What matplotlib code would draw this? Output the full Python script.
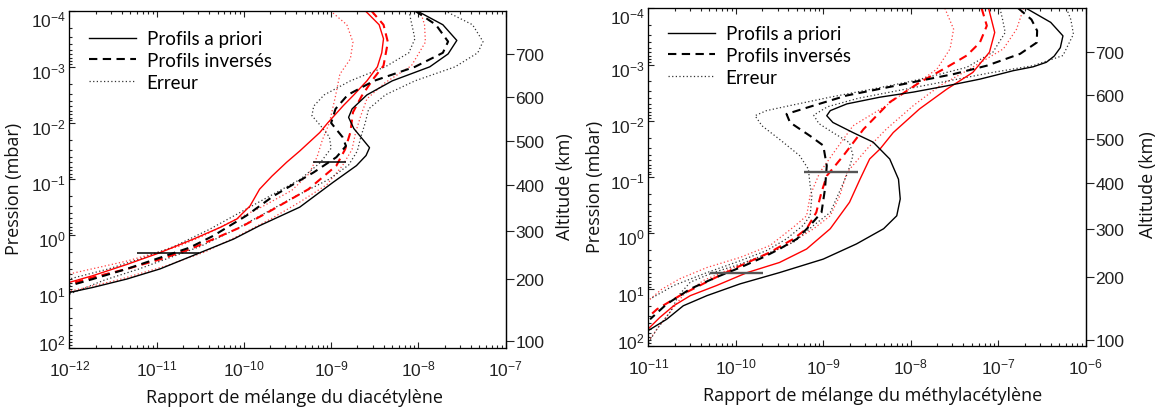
import numpy as np
import matplotlib
matplotlib.use("Agg")
import matplotlib.pyplot as plt
from matplotlib.lines import Line2D
from matplotlib.ticker import (LogLocator, NullFormatter, FixedLocator, FixedFormatter,
                               LogFormatterSciNotation)
from matplotlib.transforms import ScaledTranslation

plt.rcParams['font.family'] = 'Liberation Sans'
plt.rcParams['mathtext.default'] = 'regular'

# values are log10(pressure in mbar) -> log10(mixing ratio)

# ---------- left panel : diacetylene ----------
L_apri_lp = [-4.0, -3.75, -3.47, -3.23, -3.0, -2.75, -2.5, -2.25, -2.1, -1.9, -1.75, -1.56, -1.42,
             -1.24, -0.94, -0.5, -0.17, 0.07, 0.31, 0.6, 0.78, 0.93, 1.02]
L_apri_lx = [-8.02, -7.72, -7.56, -7.66, -7.87, -8.30, -8.59, -8.76, -8.80, -8.74, -8.66, -8.56, -8.60,
             -8.71, -8.98, -9.36, -9.82, -10.12, -10.50, -10.96, -11.34, -11.73, -12.0]
L_inv_lp = [-4.0, -3.75, -3.45, -3.25, -3.0, -2.75, -2.5, -2.25, -2.0, -1.75, -1.59, -1.39, -1.12,
            -0.7, -0.35, 0.01, 0.22, 0.40, 0.60, 0.78, 0.90]
L_inv_lx = [-8.04, -7.80, -7.66, -7.72, -8.04, -8.51, -8.81, -8.95, -9.00, -8.87, -8.83, -8.94, -9.20,
            -9.66, -9.97, -10.35, -10.62, -10.96, -11.34, -11.73, -12.0]
L_errlo_lp = [-4.0, -3.5, -3.25, -3.0, -2.75, -2.5, -2.3, -2.13, -1.95, -1.75, -1.55, -1.3, -1.0,
              -0.7, -0.4, -0.1, 0.2, 0.4, 0.6, 0.78]
L_errlo_lx = [-8.11, -8.04, -8.11, -8.38, -8.78, -9.08, -9.20, -9.22, -9.12, -9.02, -9.00, -9.12, -9.35,
              -9.70, -10.05, -10.40, -10.80, -11.15, -11.55, -12.0]
L_errhi_lp = [-4.0, -3.75, -3.45, -3.25, -3.0, -2.75, -2.5, -2.25, -2.0, -1.75, -1.5, -1.25, -1.0,
              -0.7, -0.4, -0.1, 0.2, 0.4, 0.6, 0.8, 1.05]
L_errhi_lx = [-7.70, -7.38, -7.26, -7.32, -7.58, -8.04, -8.38, -8.57, -8.61, -8.66, -8.70, -8.80, -9.02,
              -9.40, -9.75, -10.10, -10.50, -10.85, -11.20, -11.60, -12.0]
L_red_lp = [-4.0, -3.75, -3.5, -3.25, -3.0, -2.75, -2.5, -2.31, -2.0, -1.83, -1.5, -1.3, -1.05, -0.82,
            -0.52, -0.29, -0.14, 0.07, 0.31, 0.52, 0.72, 0.84]
L_red_lx = [-8.61, -8.45, -8.40, -8.42, -8.47, -8.59, -8.74, -8.86, -9.04, -9.13, -9.36, -9.51, -9.68,
            -9.82, -9.93, -10.08, -10.27, -10.58, -10.96, -11.34, -11.73, -12.0]
L_redinv_lp = [-4.0, -3.75, -3.44, -3.02, -2.78, -2.48, -2.19, -1.83, -1.53, -1.24, -0.82, -0.43, -0.14,
               0.07, 0.25, 0.43, 0.60, 0.75, 0.87]
L_redinv_lx = [-8.54, -8.40, -8.35, -8.40, -8.52, -8.65, -8.75, -8.78, -8.84, -8.94, -9.26, -9.70, -10.04,
               -10.35, -10.62, -10.96, -11.34, -11.73, -12.0]
L_rederrlo_lp = [-4.0, -3.75, -3.44, -3.14, -2.87, -2.48, -2.0, -1.7, -1.4, -1.1, -0.8, -0.5, -0.2, 0.0,
                 0.2, 0.46, 0.69]
L_rederrlo_lx = [-9.01, -8.82, -8.75, -8.78, -8.90, -8.95, -9.02, -9.10, -9.16, -9.25, -9.45, -9.80, -10.20,
                 -10.45, -10.75, -11.34, -12.0]
L_rederrhi_lp = [-4.0, -3.75, -3.44, -3.02, -2.72, -2.43, -2.13, -1.83, -1.53, -1.24, -0.9, -0.6, -0.3,
                 0.0, 0.3, 0.55, 0.8, 1.0]
L_rederrhi_lx = [-7.98, -7.93, -7.92, -8.08, -8.38, -8.59, -8.66, -8.72, -8.76, -8.87, -9.05, -9.35, -9.68,
                 -10.05, -10.45, -10.90, -11.45, -12.0]
L_bars_lp = [-1.31, 0.31]
L_bars_lx0 = [-9.205, -11.23]
L_bars_lx1 = [-8.83, -10.51]

# ---------- right panel : methylacetylene ----------
R_apri_lp = [-4.0, -3.75, -3.51, -3.3, -3.15, -3.04, -2.96, -2.89, -2.81, -2.74, -2.62, -2.51, -2.42,
             -2.30, -2.18, -2.09, -1.97, -1.79, -1.62, -1.32, -0.96, -0.61, -0.31, -0.08, 0.19, 0.46,
             0.70, 0.90, 1.11, 1.29, 1.53, 1.73]
R_apri_lx = [-6.68, -6.40, -6.26, -6.29, -6.36, -6.45, -6.60, -6.83, -7.03, -7.21, -7.59, -7.97, -8.35,
             -8.73, -8.92, -8.96, -8.89, -8.66, -8.43, -8.24, -8.14, -8.12, -8.16, -8.31, -8.62, -9.00,
             -9.50, -9.95, -10.33, -10.60, -10.79, -11.0]
R_inv_lp = [-4.0, -3.8, -3.60, -3.39, -3.19, -2.98, -2.83, -2.71, -2.59, -2.45, -2.27, -2.12, -1.97,
            -1.73, -1.56, -1.20, -0.79, -0.37, -0.14, 0.10, 0.28, 0.43, 0.61, 0.78, 0.99, 1.26, 1.53]
R_inv_lx = [-6.77, -6.62, -6.555, -6.56, -6.75, -7.13, -7.51, -7.90, -8.28, -8.73, -9.11, -9.42, -9.38,
            -9.15, -9.00, -8.96, -8.98, -9.02, -9.15, -9.30, -9.50, -9.69, -9.95, -10.22, -10.52,
            -10.79, -10.98]
R_errlo_lp = [-4.0, -3.8, -3.57, -3.22, -2.95, -2.71, -2.59, -2.42, -2.27, -2.18, -2.09, -1.91, -1.67,
              -1.38, -1.14, -0.85, -0.67, -0.31, -0.14, 0.10, 0.31, 0.49, 0.70, 0.93, 1.17]
R_errlo_lx = [-6.98, -6.95, -6.92, -7.06, -7.36, -7.97, -8.35, -8.92, -9.38, -9.65, -9.78, -9.70, -9.50,
              -9.27, -9.17, -9.15, -9.13, -9.15, -9.23, -9.42, -9.65, -9.95, -10.33, -10.71, -10.98]
R_errhi_lp = [-4.0, -3.8, -3.54, -3.16, -2.98, -2.85, -2.70, -2.55, -2.40, -2.25, -2.10, -1.95, -1.80,
              -1.61, -1.38, -1.08, -0.79, -0.37, -0.14, 0.16, 0.37, 0.55, 0.70, 0.87, 1.1, 1.4, 1.7, 1.95]
R_errhi_lx = [-6.22, -6.17, -6.14, -6.26, -6.60, -7.10, -7.60, -8.10, -8.60, -8.95, -9.11, -9.05, -8.90,
              -8.70, -8.66, -8.72, -8.80, -8.92, -9.11, -9.34, -9.65, -9.95, -10.26, -10.52, -10.65,
              -10.75, -10.90, -11.0]
R_red_lp = [-4.0, -3.57, -3.22, -2.86, -2.56, -2.21, -1.79, -1.5, -1.32, -0.96, -0.55, -0.08, 0.28, 0.52,
            0.70, 0.93, 1.11, 1.29, 1.50, 1.70]
R_red_lx = [-7.11, -7.04, -7.10, -7.29, -7.59, -7.90, -8.20, -8.35, -8.47, -8.58, -8.70, -8.92, -9.19,
            -9.50, -9.87, -10.22, -10.52, -10.71, -10.87, -11.0]
R_redinv_lp = [-4.0, -3.69, -3.39, -3.16, -2.95, -2.68, -2.33, -1.85, -1.38, -1.02, -0.73, -0.37, -0.08,
               0.10, 0.34, 0.58, 0.81, 1.11, 1.35, 1.49]
R_redinv_lx = [-7.19, -7.13, -7.21, -7.36, -7.59, -7.90, -8.24, -8.54, -8.77, -8.96, -9.02, -9.08, -9.19,
               -9.34, -9.61, -9.95, -10.26, -10.64, -10.90, -11.0]
R_rederrlo_lp = [-4.0, -3.63, -3.28, -2.92, -2.62, -2.27, -1.91, -1.50, -1.08, -0.67, -0.31, -0.11, 0.22,
                 0.43, 0.61, 0.81, 1.0, 1.20]
R_rederrlo_lx = [-7.61, -7.51, -7.55, -7.70, -7.97, -8.28, -8.66, -8.85, -9.04, -9.15, -9.19, -9.34, -9.61,
                 -9.95, -10.33, -10.64, -10.85, -11.0]
R_rederrhi_lp = [-4.0, -3.63, -3.28, -2.89, -2.62, -2.27, -1.85, -1.50, -1.08, -0.67, -0.31, -0.08, 0.22,
                 0.43, 0.64, 0.84, 1.1, 1.4, 1.64, 1.88]
R_rederrhi_lx = [-6.71, -6.79, -6.94, -7.36, -7.67, -7.97, -8.28, -8.50, -8.73, -8.81, -8.92, -9.11, -9.42,
                 -9.72, -10.07, -10.37, -10.60, -10.75, -10.87, -10.98]
R_bars_lp = [-1.09, 0.707]
R_bars_lx0 = [-9.217, -10.295]
R_bars_lx1 = [-8.607, -9.69]

# decades shown on the axes
L_xdec = [-12, -11, -10, -9, -8, -7]
R_xdec = [-11, -10, -9, -8, -7, -6]
p_dec = [-4, -3, -2, -1, 0, 1, 2]

# altitude scale (km) and its position on the pressure axis
alt_km = [700, 600, 500, 400, 300, 200, 100]
alt_logp = [-3.228, -2.456, -1.683, -0.893, -0.068, 0.78, 1.89]

legend_labels = ['Profils a priori', 'Profils inversés', 'Erreur']

DASH = (4, 2.6)
DOT = (1, 1.9)
styles = {
    'apri': dict(color='black', lw=1.0),
    'inv': dict(color='black', lw=1.5, dashes=DASH),
    'err': dict(color='#333333', lw=0.9, dashes=DOT),
    'red': dict(color='#ff0000', lw=1.0),
    'redinv': dict(color='#ff0000', lw=1.5, dashes=DASH),
    'rederr': dict(color='#ff4040', lw=0.9, dashes=DOT),
}

LABEL_FONT = 'Open Sans'
LEGEND_FONT = 'Lato'


def curve(ax, lp, lx, key):
    ax.plot(10.0 ** np.array(lx), 10.0 ** np.array(lp), **styles[key])


def setup(ax, xdec, xlabel, bars, bar_color, bar_lw, ylab_x, alt_x, xlab_dx, leg_y):
    lp, lx0, lx1 = bars
    for p, a, b in zip(lp, lx0, lx1):
        ax.plot([10.0 ** a, 10.0 ** b], [10.0 ** p, 10.0 ** p], color=bar_color, lw=bar_lw,
                solid_capstyle='butt')
    ax.set_xscale('log')
    ax.set_yscale('log')
    ax.set_xlim(10.0 ** xdec[0], 10.0 ** xdec[-1])
    ax.set_ylim(10.0 ** p_dec[-1], 10.0 ** p_dec[0])
    ax.xaxis.set_major_locator(FixedLocator(10.0 ** np.array(xdec, dtype=float)))
    ax.yaxis.set_major_locator(FixedLocator(10.0 ** np.array(p_dec, dtype=float)))
    ax.xaxis.set_major_formatter(LogFormatterSciNotation())
    ax.yaxis.set_major_formatter(LogFormatterSciNotation())
    ax.xaxis.set_minor_locator(LogLocator(base=10, subs=np.arange(2, 10), numticks=20))
    ax.yaxis.set_minor_locator(LogLocator(base=10, subs=np.arange(2, 10), numticks=20))
    ax.xaxis.set_minor_formatter(NullFormatter())
    ax.yaxis.set_minor_formatter(NullFormatter())
    ax.tick_params(which='both', direction='in', top=True, right=False, colors='#222222',
                   labelsize=12.5, width=0.8)
    ax.tick_params(which='major', length=4.5)
    ax.tick_params(which='minor', length=2.3)
    ax.tick_params(axis='x', which='major', pad=8)
    ax.tick_params(axis='y', which='major', pad=2.5)
    for s in ax.spines.values():
        s.set_linewidth(0.9)
        s.set_color('#222222')
    ax.set_xlabel(xlabel, fontsize=13, family=LABEL_FONT, color='#111111')
    ax.xaxis.set_label_coords(0.5 + xlab_dx, -0.12)
    ax.set_ylabel('Pression (mbar)', fontsize=13, family=LABEL_FONT, color='#111111')
    ax.yaxis.set_label_coords(ylab_x, 0.474)

    handles = [Line2D([], [], **styles['apri']),
               Line2D([], [], **styles['inv']),
               Line2D([], [], **styles['err'])]
    ax.legend(handles, legend_labels, loc='upper left', bbox_to_anchor=(0.046, leg_y),
              frameon=False, borderpad=0, borderaxespad=0, handlelength=2.5,
              handletextpad=0.55, labelspacing=0.25,
              prop={'family': LEGEND_FONT, 'size': 13.5})

    tw = ax.twinx()
    tw.set_yscale('log')
    tw.set_ylim(ax.get_ylim())
    tw.yaxis.set_major_locator(FixedLocator(10.0 ** np.array(alt_logp)))
    tw.yaxis.set_major_formatter(FixedFormatter([str(a) for a in alt_km]))
    tw.yaxis.set_minor_locator(FixedLocator([]))
    tw.tick_params(axis='y', direction='out', length=5.4, width=0.8, pad=1.5,
                   labelsize=12.5, colors='#222222')
    tw.spines['right'].set_linewidth(0.9)
    tw.set_ylabel('Altitude (km)', fontsize=13, family=LABEL_FONT, color='#111111')
    tw.yaxis.set_label_coords(alt_x, 0.48)


def nudge_ylabels(ax):
    # pressure labels sit a little below their tick; the end ones are pulled inside the frame
    for tick in ax.yaxis.get_major_ticks():
        e = np.log10(tick.get_loc())
        dy = -3
        if abs(e - p_dec[0]) < 0.01:
            dy = -7
        elif abs(e - p_dec[-1]) < 0.01:
            dy = 6
        tick.label1.set_transform(tick.label1.get_transform()
                                  + ScaledTranslation(0, dy / 100, fig.dpi_scale_trans))


fig = plt.figure(figsize=(11.58, 4.10), dpi=100)
axL = fig.add_axes([0.05984, 0.15, 0.37686, 0.82146])
axR = fig.add_axes([0.55984, 0.15439, 0.37772, 0.82293])

curve(axL, L_rederrlo_lp, L_rederrlo_lx, 'rederr')
curve(axL, L_rederrhi_lp, L_rederrhi_lx, 'rederr')
curve(axL, L_errlo_lp, L_errlo_lx, 'err')
curve(axL, L_errhi_lp, L_errhi_lx, 'err')
curve(axL, L_red_lp, L_red_lx, 'red')
curve(axL, L_redinv_lp, L_redinv_lx, 'redinv')
curve(axL, L_apri_lp, L_apri_lx, 'apri')
curve(axL, L_inv_lp, L_inv_lx, 'inv')
setup(axL, L_xdec, 'Rapport de mélange du diacétylène',
      (L_bars_lp, L_bars_lx0, L_bars_lx1), 'black', 1.1, -0.105, 1.115, 0.015, 0.942)

curve(axR, R_rederrlo_lp, R_rederrlo_lx, 'rederr')
curve(axR, R_rederrhi_lp, R_rederrhi_lx, 'rederr')
curve(axR, R_errlo_lp, R_errlo_lx, 'err')
curve(axR, R_errhi_lp, R_errhi_lx, 'err')
curve(axR, R_red_lp, R_red_lx, 'red')
curve(axR, R_redinv_lp, R_redinv_lx, 'redinv')
curve(axR, R_apri_lp, R_apri_lx, 'apri')
curve(axR, R_inv_lp, R_inv_lx, 'inv')
setup(axR, R_xdec, 'Rapport de mélange du méthylacétylène',
      (R_bars_lp, R_bars_lx0, R_bars_lx1), '#555555', 1.7, -0.102, 1.122, 0.013, 0.95)

fig.canvas.draw()
nudge_ylabels(axL)
nudge_ylabels(axR)

fig.savefig('out.png', dpi=100)
